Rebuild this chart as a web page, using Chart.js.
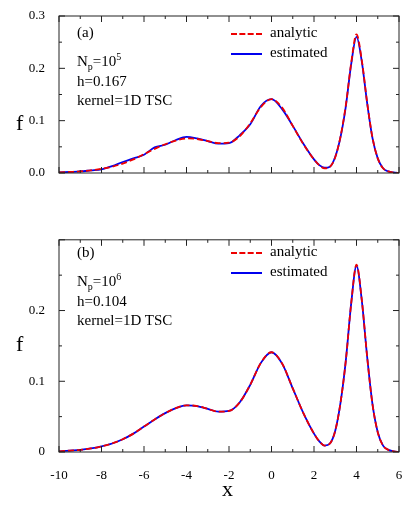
<!DOCTYPE html>
<html><head><meta charset="utf-8">
<script src="https://cdn.jsdelivr.net/npm/chart.js@4"></script>
<style>
body{margin:0;width:415px;height:512px;background:#fff;position:relative;overflow:hidden;font-family:"Liberation Serif","DejaVu Serif",serif;}
canvas{position:absolute;left:0;}
.t{position:absolute;font-size:15px;color:#000;white-space:nowrap;line-height:1;}
.ln{position:absolute;width:31px;height:0;}
</style></head><body>
<canvas id="c1" width="415" height="240" style="top:0;width:415px;height:240px"></canvas>
<canvas id="c2" width="415" height="286" style="top:226px;width:415px;height:286px"></canvas>

<div class="t" style="left:77px;top:25px">(a)</div>
<div class="t" style="left:77px;top:52px">N<sub style="font-size:10px">p</sub>=10<sup style="font-size:10px">5</sup></div>
<div class="t" style="left:77px;top:74px">h=0.167</div>
<div class="t" style="left:77px;top:93px">kernel=1D TSC</div>
<div class="ln" style="left:231px;top:33px;border-top:2px dashed #e00"></div>
<div class="t" style="left:270px;top:25px">analytic</div>
<div class="ln" style="left:231px;top:53px;border-top:2px solid #00e"></div>
<div class="t" style="left:270px;top:45px">estimated</div>

<div class="t" style="left:77px;top:245px">(b)</div>
<div class="t" style="left:77px;top:272px">N<sub style="font-size:10px">p</sub>=10<sup style="font-size:10px">6</sup></div>
<div class="t" style="left:77px;top:294px">h=0.104</div>
<div class="t" style="left:77px;top:313px">kernel=1D TSC</div>
<div class="ln" style="left:231px;top:252px;border-top:2px dashed #e00"></div>
<div class="t" style="left:270px;top:244px">analytic</div>
<div class="ln" style="left:231px;top:272px;border-top:2px solid #00e"></div>
<div class="t" style="left:270px;top:264px">estimated</div>

<div class="t" style="left:16px;top:112px;font-size:22px">f</div>
<div class="t" style="left:16px;top:333px;font-size:22px">f</div>
<div class="t" style="left:222px;top:478px;font-size:22px">x</div>

<script>
const xs = [-10,-9.5,-9,-8.5,-8,-7.5,-7,-6.5,-6,-5.5,-5,-4.5,-4,-3.5,-3,-2.5,-2,-1.5,-1,-0.5,0,0.5,1,1.5,2,
  2.25,2.5,2.75,3,3.25,3.5,3.75,4,4.25,4.5,4.75,5,5.25,5.5,5.75,6];
const analytic = [0.001,0.002,0.003,0.005,0.008,0.012,0.018,0.026,0.036,0.046,0.055,0.062,0.066,0.065,0.061,0.057,0.058,0.070,0.095,0.126,0.141,0.125,0.090,0.055,0.026,
  0.015,0.009,0.012,0.030,0.070,0.130,0.210,0.265,0.215,0.135,0.068,0.028,0.009,0.003,0.001,0];
const estimatedA = [0.001,0.002,0.003,0.005,0.007,0.013,0.021,0.028,0.035,0.049,0.054,0.063,0.069,0.066,0.061,0.056,0.057,0.072,0.093,0.128,0.141,0.122,0.090,0.056,0.026,
  0.015,0.010,0.012,0.031,0.069,0.128,0.208,0.260,0.213,0.134,0.067,0.028,0.009,0.003,0.001,0];
const estimatedB = [0.001,0.002,0.003,0.005,0.008,0.012,0.018,0.026,0.036,0.046,0.055,0.062,0.066,0.065,0.061,0.057,0.058,0.070,0.095,0.126,0.141,0.125,0.090,0.055,0.026,
  0.015,0.009,0.012,0.030,0.070,0.130,0.210,0.263,0.214,0.135,0.068,0.028,0.009,0.003,0.001,0];
const yTicksA = [0,0.1,0.2,0.3];
const yTicksB = [0,0.1,0.2];

const FONT = {family:"'Liberation Serif','DejaVu Serif',serif", size:13};

const frame = {
  id:'frame',
  afterDraw(chart){
    const {ctx, chartArea:a, scales:{x,y}} = chart;
    ctx.save(); ctx.strokeStyle='#222'; ctx.lineWidth=1;
    ctx.strokeRect(a.left, a.top, a.right-a.left, a.bottom-a.top);
    ctx.beginPath();
    for(let v=-10; v<=6; v+=1){
      const p=x.getPixelForValue(v), L = v%2===0?6:3;
      ctx.moveTo(p,a.bottom); ctx.lineTo(p,a.bottom-L);
      ctx.moveTo(p,a.top); ctx.lineTo(p,a.top+L);
    }
    for(let i=0;i<=6;i++){
      const v=i*0.05, p=y.getPixelForValue(v), L = i%2===0?6:3;
      ctx.moveTo(a.left,p); ctx.lineTo(a.left+L,p);
      ctx.moveTo(a.right,p); ctx.lineTo(a.right-L,p);
    }
    ctx.stroke(); ctx.restore();
  }
};

function make(id, est, yTicks, showX, yFmt, pad){
  const toPts = arr => xs.map((v,i)=>({x:v,y:arr[i]}));
  new Chart(document.getElementById(id), {
    type:'line',
    data:{datasets:[
      {data:toPts(analytic), borderColor:'#e00', borderDash:[6,3], borderWidth:1.8, pointRadius:0, cubicInterpolationMode:'monotone'},
      {data:toPts(est), borderColor:'#00e', borderWidth:1.8, pointRadius:0, cubicInterpolationMode:'monotone'}
    ]},
    options:{
      responsive:false, animation:false,
      layout:{padding:pad},
      plugins:{legend:{display:false}, tooltip:{enabled:false}},
      scales:{
        x:{type:'linear', min:-10, max:6, display:showX,
           afterBuildTicks(s){ s.ticks=[-10,-8,-6,-4,-2,0,2,4,6].map(v=>({value:v})); },
           afterFit(s){ s.height=60; },
           grid:{display:false}, border:{display:false},
           ticks:{color:'#000', font:FONT, padding:8, maxRotation:0}},
        y:{min:0, max:0.3,
           afterBuildTicks(s){ s.ticks=yTicks.map(v=>({value:v})); },
           afterFit(s){ s.width=59; },
           grid:{display:false}, border:{display:false},
           ticks:{color:'#000', font:FONT, padding:6, callback:yFmt}}
      }
    },
    plugins:[frame]
  });
}
make('c1', estimatedA, yTicksA, false, v=>v.toFixed(1), {left:0,right:16,top:16,bottom:7});
make('c2', estimatedB, yTicksB, true, v=>v===0?'0':v.toFixed(1), {left:0,right:16,top:7,bottom:0});
</script>
</body></html>
